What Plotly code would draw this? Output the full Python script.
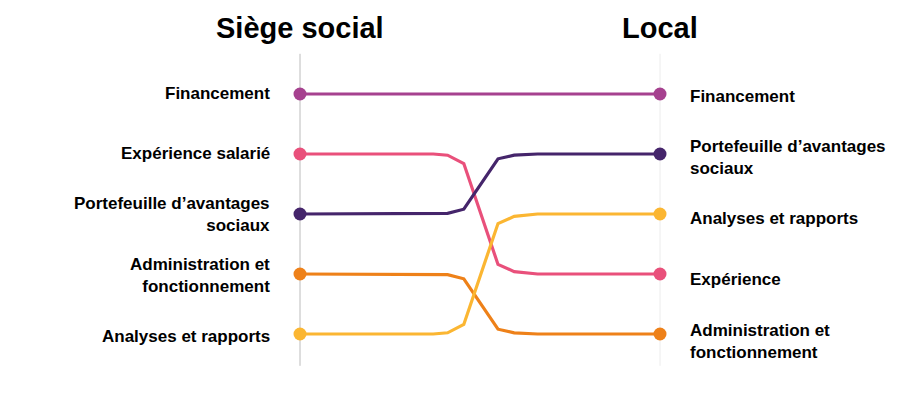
import plotly.graph_objects as go

# ---- data ----
categories = [
    "Financement",
    "Expérience salarié",
    "Portefeuille d’avantages sociaux",
    "Administration et fonctionnement",
    "Analyses et rapports",
]
left_labels = [
    "Financement",
    "Expérience salarié",
    "Portefeuille d’avantages<br>sociaux",
    "Administration et<br>fonctionnement",
    "Analyses et rapports",
]
right_labels = [
    "Financement",
    "Expérience",
    "Portefeuille d’avantages<br>sociaux",
    "Administration et<br>fonctionnement",
    "Analyses et rapports",
]
rank_siege = [1, 2, 3, 4, 5]
rank_local = [1, 4, 2, 5, 3]
columns = ["Siège social", "Local"]
colors = ["#a6418f", "#e9507b", "#45256b", "#ee8119", "#fbb632"]

# ---- connector shape (style) ----
PROFILE_X = [0, 0.37, 0.41, 0.455, 0.55, 0.595, 0.66, 1]
PROFILE_T = [0, 0, 0.01, 0.08, 0.92, 0.98, 1, 1]

FONT = "Liberation Sans, Arial, sans-serif"
OFF = 8  # page body margin
W, H = 900 - 2 * OFF, 399 - 2 * OFF
X0_PX, X1_PX = 300 - OFF, 660 - OFF
Y1_PX, STEP_PX = 94 - OFF, 60

px_per_x = X1_PX - X0_PX
xr = [-X0_PX / px_per_x, -X0_PX / px_per_x + W / px_per_x]
ytop = 1 - Y1_PX / STEP_PX
yr = [ytop + H / STEP_PX, ytop]

fig = go.Figure()
nranks = max(rank_siege)

# column guide lines
fig.add_shape(type="line", x0=0, x1=0, y0=1 - 0.67, y1=nranks + 0.53,
              line=dict(color="#bcbcbc", width=1), layer="below")
fig.add_shape(type="line", x0=1, x1=1, y0=1 - 0.67, y1=nranks + 0.53,
              line=dict(color="#ececec", width=1), layer="below")

for i, cat in enumerate(categories):
    r0, r1 = rank_siege[i], rank_local[i]
    ys = [r0 + (r1 - r0) * t for t in PROFILE_T]
    fig.add_trace(go.Scatter(
        x=PROFILE_X, y=ys, mode="lines", name=cat,
        line=dict(color=colors[i], width=3.2), hoverinfo="skip", showlegend=False))
    fig.add_trace(go.Scatter(
        x=[0, 1], y=[r0, r1], mode="markers", name=cat,
        marker=dict(color=colors[i], size=13), showlegend=False))

for i in range(len(categories)):
    rl = rank_siege[i]
    fig.add_annotation(x=0, y=rl, text="<b>%s</b>" % left_labels[i],
                       xanchor="right", yanchor="middle", align="right",
                       xshift=-28, yshift=1 - 0.75 * (rl - 1), showarrow=False,
                       font=dict(family=FONT, size=17, color="#000"))
    r = rank_local[i]
    fig.add_annotation(x=1, y=r, text="<b>%s</b>" % right_labels[i],
                       xanchor="left", yanchor="middle", align="left",
                       xshift=28, yshift=-(2 + 1.25 * (r - 1)), showarrow=False,
                       font=dict(family=FONT, size=17, color="#000"))

for j, col in enumerate(columns):
    fig.add_annotation(x=j, y=1 - (28 - OFF) / H, yref="paper", text="<b>%s</b>" % col,
                       xanchor="center", yanchor="middle", showarrow=False,
                       font=dict(family=FONT, size=29, color="#000"))

fig.update_layout(
    width=W, height=H,
    margin=dict(l=0, r=0, t=0, b=0),
    paper_bgcolor="white", plot_bgcolor="white",
    xaxis=dict(range=xr, visible=False, fixedrange=True),
    yaxis=dict(range=yr, visible=False, fixedrange=True),
    showlegend=False,
)

fig.write_html("out.html")
